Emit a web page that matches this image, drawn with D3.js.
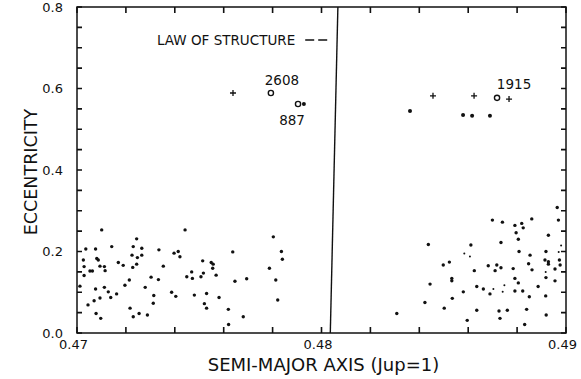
<!DOCTYPE html>
<html>
<head>
<meta charset="utf-8">
<script src="https://cdn.jsdelivr.net/npm/d3@7"></script>
<style>
  html, body { margin: 0; padding: 0; background: #fff; }
  svg { display: block; }
  text { font-family: "DejaVu Sans", sans-serif; fill: #111; }
</style>
</head>
<body>
<svg id="chart" width="581" height="379"></svg>
<script>
// Semi-major axis (Jupiter = 1) vs eccentricity, asteroid sample near the 0.48 gap

// Ordinary asteroids, lower-left group [a, e]
const lowLeft = [
  [0.47101,0.253],[0.47442,0.253],[0.47803,0.236],[0.47244,0.231],[0.47036,0.206],[0.47076,0.206],
  [0.47142,0.212],[0.47230,0.212],[0.47265,0.208],[0.47335,0.204],[0.47637,0.199],[0.47836,0.200],
  [0.47397,0.196],[0.47414,0.200],[0.47225,0.191],[0.47265,0.191],[0.47421,0.187],[0.47026,0.179],
  [0.47081,0.183],[0.47087,0.179],[0.47247,0.185],[0.47840,0.181],[0.47514,0.177],[0.47169,0.173],
  [0.47549,0.173],[0.47557,0.169],[0.47244,0.169],[0.47029,0.163],[0.47094,0.164],[0.47112,0.163],
  [0.47189,0.166],[0.47228,0.161],[0.47353,0.164],[0.47555,0.159],[0.47787,0.159],[0.47115,0.153],
  [0.47053,0.152],[0.47063,0.152],[0.47469,0.150],[0.47517,0.147],[0.47029,0.141],[0.47449,0.138],
  [0.47303,0.137],[0.47472,0.134],[0.47569,0.142],[0.47507,0.138],[0.47333,0.131],[0.47214,0.130],
  [0.47813,0.130],[0.47646,0.127],[0.47694,0.133],[0.47196,0.117],[0.47012,0.115],[0.47279,0.112],
  [0.47076,0.108],[0.47112,0.112],[0.47387,0.100],[0.47128,0.101],[0.47162,0.096],[0.47530,0.097],
  [0.47314,0.092],[0.47404,0.090],[0.47480,0.093],[0.47094,0.086],[0.47138,0.087],[0.47581,0.087],
  [0.47070,0.079],[0.47821,0.081],[0.47312,0.073],[0.47045,0.069],[0.47521,0.072],[0.47217,0.061],
  [0.47530,0.061],[0.47619,0.058],[0.47078,0.048],[0.47254,0.048],[0.47288,0.044],[0.47230,0.040],
  [0.47680,0.040],[0.47097,0.036],[0.47620,0.021]
];

// Ordinary asteroids, lower-right group [a, e]
const lowRight = [
  [0.48964,0.308],[0.48699,0.277],[0.48740,0.272],[0.48860,0.280],[0.48969,0.277],[0.48791,0.264],
  [0.48819,0.269],[0.48825,0.258],[0.48796,0.246],[0.48928,0.240],[0.48805,0.230],[0.48734,0.222],
  [0.48437,0.217],[0.48611,0.216],[0.48808,0.200],[0.48918,0.200],[0.48853,0.191],[0.48914,0.179],
  [0.48928,0.175],[0.48973,0.179],[0.48928,0.169],[0.48976,0.167],[0.48523,0.174],[0.48498,0.167],
  [0.48682,0.165],[0.48717,0.167],[0.48734,0.160],[0.48710,0.153],[0.48625,0.153],[0.48784,0.158],
  [0.48847,0.170],[0.48861,0.155],[0.48955,0.157],[0.48533,0.134],[0.48533,0.128],[0.48791,0.134],
  [0.48805,0.123],[0.48918,0.136],[0.48955,0.128],[0.48444,0.120],[0.48635,0.114],[0.48662,0.108],
  [0.48886,0.114],[0.48580,0.101],[0.48689,0.096],[0.48791,0.103],[0.48823,0.103],[0.48850,0.089],
  [0.48917,0.091],[0.48535,0.085],[0.48423,0.075],[0.48502,0.061],[0.48635,0.056],[0.48726,0.054],
  [0.48760,0.056],[0.48839,0.058],[0.48308,0.048],[0.48919,0.044],[0.48730,0.036],[0.48596,0.031],
  [0.48831,0.021]
];

// Faint (small) points
const faintPoints = [
  [0.48980,0.215],[0.48584,0.195],[0.48607,0.188],[0.48970,0.199],[0.48917,0.150],
  [0.48748,0.117],[0.48703,0.108],[0.48741,0.101]
];

// High-eccentricity objects
const highDots = [[0.47928,0.562],[0.48362,0.545],[0.48579,0.535],[0.48616,0.533],[0.48689,0.533]];
const highPlus = [[0.47638,0.589],[0.48456,0.582],[0.48624,0.582],[0.48767,0.574]];
const ringA = [0.47793, 0.47904, 0.48718];
const ringE = [0.589, 0.562, 0.577];
const ringNames = ["2608", "887", "1915"];

// Gap boundary (slightly tilted line)
const gapLine = [[0.48067, 0.8], [0.48036, 0.0]];

// Axes
const xDomain = [0.47, 0.49];
const yDomain = [0, 0.8];
const xTicks = [0.470,0.472,0.474,0.476,0.478,0.480,0.482,0.484,0.486,0.488,0.490];
const xTickLabels = ["0.47","","","","","0.48","","","","","0.49"];
const yTicks = [0,0.05,0.1,0.15,0.2,0.25,0.3,0.35,0.4,0.45,0.5,0.55,0.6,0.65,0.7,0.75,0.8];
const yTickLabels = ["0.0","","","","0.2","","","","0.4","","","","0.6","","","","0.8"];

const svg = d3.select("#chart");
const M = { left: 77, right: 566, top: 7, bottom: 333 };
const x = d3.scaleLinear().domain(xDomain).range([M.left, M.right]);
const y = d3.scaleLinear().domain(yDomain).range([M.bottom, M.top]);

const xLab = d => xTickLabels[xTicks.findIndex(t => Math.abs(t - d) < 1e-9)] || "";
const yLab = d => yTickLabels[yTicks.findIndex(t => Math.abs(t - d) < 1e-9)] || "";

const INK = "#111";
const TICK_X = 6, TICK_Y = 5;

// tick labels come from the axis generators; tick marks are drawn inward below
function styleAxis(g) {
  g.select(".domain").remove();
  g.selectAll(".tick line").remove();
  g.selectAll(".tick text").style("font-family", "DejaVu Sans, sans-serif").attr("fill", INK);
}

const gB = svg.append("g").attr("transform", `translate(0,${M.bottom})`)
  .call(d3.axisBottom(x).tickValues(xTicks).tickFormat(xLab)
    .tickSizeInner(0).tickSizeOuter(0).tickPadding(7));
styleAxis(gB);
gB.selectAll(".tick text").style("font-size", "13px").attr("dx", -4);

const gL = svg.append("g").attr("transform", `translate(${M.left},0)`)
  .call(d3.axisLeft(y).tickValues(yTicks).tickFormat(yLab)
    .tickSizeInner(0).tickSizeOuter(0).tickPadding(14));
styleAxis(gL);
gL.selectAll(".tick text").style("font-size", "13px");

// inward tick marks on all four sides
const tickPath = d3.path();
xTicks.forEach(t => {
  tickPath.moveTo(x(t), M.bottom); tickPath.lineTo(x(t), M.bottom - TICK_X);
  tickPath.moveTo(x(t), M.top);    tickPath.lineTo(x(t), M.top + TICK_X);
});
yTicks.forEach(t => {
  tickPath.moveTo(M.left, y(t));  tickPath.lineTo(M.left + TICK_Y, y(t));
  tickPath.moveTo(M.right, y(t)); tickPath.lineTo(M.right - TICK_Y, y(t));
});
svg.append("path").attr("class", "ticks")
  .attr("d", tickPath.toString())
  .attr("fill", "none").attr("stroke", INK).attr("stroke-width", 1.6);

// frame
svg.append("rect")
  .attr("x", M.left).attr("y", M.top)
  .attr("width", M.right - M.left).attr("height", M.bottom - M.top)
  .attr("fill", "none").attr("stroke", INK).attr("stroke-width", 1.5);

// axis titles
svg.append("text")
  .attr("x", (M.left + M.right) / 2 + 2).attr("y", 371)
  .attr("text-anchor", "middle").style("font-size", "18px")
  .text("SEMI-MAJOR AXIS (Jup=1)");

svg.append("text")
  .attr("transform", `translate(37,${(M.top + M.bottom) / 2 + 2}) rotate(-90)`)
  .attr("text-anchor", "middle").style("font-size", "17.5px")
  .text("ECCENTRICITY");

// gap boundary
svg.append("path")
  .attr("d", d3.line().x(d => x(d[0])).y(d => y(d[1]))(gapLine))
  .attr("stroke", INK).attr("stroke-width", 1.4).attr("fill", "none");

// legend
const leg = svg.append("text")
  .attr("x", 157).attr("y", 45).style("font-size", "13.5px")
  .text("LAW OF STRUCTURE");
const legEnd = 157 + leg.node().getComputedTextLength();
svg.append("line")
  .attr("x1", legEnd + 10).attr("x2", legEnd + 33).attr("y1", 40).attr("y2", 40)
  .attr("stroke", INK).attr("stroke-width", 1.5).attr("stroke-dasharray", "9,4");

// points
const dotG = svg.append("g").attr("fill", INK);
dotG.selectAll("circle.low").data(lowLeft.concat(lowRight)).join("circle")
  .attr("class", "low")
  .attr("cx", d => x(d[0])).attr("cy", d => y(d[1])).attr("r", 1.7);
dotG.selectAll("circle.faint").data(faintPoints).join("circle")
  .attr("class", "faint")
  .attr("cx", d => x(d[0])).attr("cy", d => y(d[1])).attr("r", 1.0);
dotG.selectAll("circle.high").data(highDots).join("circle")
  .attr("class", "high")
  .attr("cx", d => x(d[0])).attr("cy", d => y(d[1])).attr("r", 2.0);

// plus markers
svg.append("g").selectAll("path").data(highPlus).join("path")
  .attr("d", d => {
    const cx = x(d[0]), cy = y(d[1]), s = 3;
    return `M${cx - s},${cy}H${cx + s}M${cx},${cy - s}V${cy + s}`;
  })
  .attr("stroke", INK).attr("stroke-width", 1.3);

// open rings for named objects
const rings = ringA.map((a, i) => ({ a, e: ringE[i], name: ringNames[i] }));
svg.append("g").selectAll("circle").data(rings).join("circle")
  .attr("cx", d => x(d.a)).attr("cy", d => y(d.e)).attr("r", 2.6)
  .attr("fill", "#fff").attr("stroke", INK).attr("stroke-width", 1.4);

// ring labels
const labelOffset = { "2608": [11, -8], "887": [-6, 21], "1915": [17, -9] };
svg.append("g").selectAll("text").data(rings).join("text")
  .attr("x", d => x(d.a) + labelOffset[d.name][0])
  .attr("y", d => y(d.e) + labelOffset[d.name][1])
  .attr("text-anchor", "middle").style("font-size", "13.5px")
  .text(d => d.name);
</script>
</body>
</html>
